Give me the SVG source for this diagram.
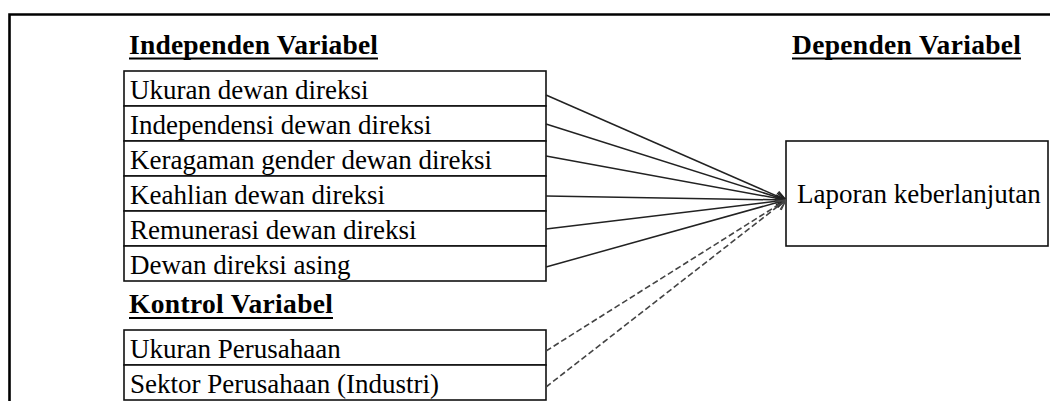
<svg xmlns="http://www.w3.org/2000/svg" width="1050" height="401" viewBox="0 0 1050 401">
<style>
.frame{fill:none;stroke:#000;stroke-width:2.6}
.box{fill:#fff;stroke:#111;stroke-width:1.6}
.hd{font-family:"Liberation Serif","Times New Roman",serif;font-weight:bold;font-size:27.5px;fill:#000}
.ul{stroke:#000;stroke-width:2.2}
.tx{font-family:"Liberation Serif","Times New Roman",serif;font-size:27px;fill:#000}
.sl{fill:none;stroke:#222;stroke-width:1.5}
.dl{fill:none;stroke:#444;stroke-width:1.6;stroke-dasharray:6 3}
</style>
<defs>
<marker id="ah" viewBox="0 0 12 12" refX="11" refY="6" markerWidth="12" markerHeight="12" markerUnits="userSpaceOnUse" orient="auto">
<path d="M1,1 L11,6 L1,11" fill="none" stroke="#222" stroke-width="1.3"/>
</marker>
<marker id="ahd" viewBox="0 0 12 12" refX="11" refY="6" markerWidth="12" markerHeight="12" markerUnits="userSpaceOnUse" orient="auto">
<path d="M1,1 L11,6 L1,11" fill="none" stroke="#444" stroke-width="1.3"/>
</marker>
</defs>
<rect width="1050" height="401" fill="#fff"/>
<path class="frame" d="M9.5,402 L9.5,14.5 L1052,14.5"/>

<g id="heading-independen">
<text class="hd" x="129" y="54" textLength="249" lengthAdjust="spacing">Independen Variabel</text>
<line class="ul" x1="129" y1="58.5" x2="378" y2="58.5"/>
</g>
<g id="heading-dependen">
<text class="hd" x="792" y="54" textLength="229" lengthAdjust="spacing">Dependen Variabel</text>
<line class="ul" x1="792" y1="58.5" x2="1021" y2="58.5"/>
</g>
<g id="heading-kontrol">
<text class="hd" x="129" y="313" textLength="204" lengthAdjust="spacing">Kontrol Variabel</text>
<line class="ul" x1="129" y1="318" x2="333" y2="318"/>
</g>

<g id="node-ukuran-dewan">
<rect class="box" x="124" y="71" width="422" height="35"/>
<text class="tx" x="130" y="99">Ukuran dewan direksi</text>
</g>
<g id="node-independensi">
<rect class="box" x="124" y="106" width="422" height="35"/>
<text class="tx" x="130" y="134">Independensi dewan direksi</text>
</g>
<g id="node-keragaman">
<rect class="box" x="124" y="141" width="422" height="35"/>
<text class="tx" x="130" y="169">Keragaman gender dewan direksi</text>
</g>
<g id="node-keahlian">
<rect class="box" x="124" y="176" width="422" height="35"/>
<text class="tx" x="130" y="204">Keahlian dewan direksi</text>
</g>
<g id="node-remunerasi">
<rect class="box" x="124" y="211" width="422" height="35"/>
<text class="tx" x="130" y="239">Remunerasi dewan direksi</text>
</g>
<g id="node-asing">
<rect class="box" x="124" y="246" width="422" height="35"/>
<text class="tx" x="130" y="274">Dewan direksi asing</text>
</g>
<g id="node-ukuran-perusahaan">
<rect class="box" x="124" y="330" width="422" height="35"/>
<text class="tx" x="130" y="358">Ukuran Perusahaan</text>
</g>
<g id="node-sektor">
<rect class="box" x="124" y="365" width="422" height="35"/>
<text class="tx" x="130" y="393">Sektor Perusahaan (Industri)</text>
</g>
<g id="node-laporan">
<rect class="box" x="786" y="141" width="262" height="105"/>
<text class="tx" x="797" y="203">Laporan keberlanjutan</text>
</g>

<g id="connectors">
<line class="sl" x1="546" y1="95" x2="786" y2="200" marker-end="url(#ah)"/>
<line class="sl" x1="546" y1="124" x2="786" y2="200" marker-end="url(#ah)"/>
<line class="sl" x1="546" y1="156" x2="786" y2="200" marker-end="url(#ah)"/>
<line class="sl" x1="546" y1="196" x2="786" y2="200" marker-end="url(#ah)"/>
<line class="sl" x1="546" y1="229" x2="786" y2="200" marker-end="url(#ah)"/>
<line class="sl" x1="546" y1="267" x2="786" y2="200" marker-end="url(#ah)"/>
<line class="dl" x1="546" y1="351" x2="786" y2="200" marker-end="url(#ahd)"/>
<line class="dl" x1="546" y1="387" x2="786" y2="200" marker-end="url(#ahd)"/>
</g>
</svg>
